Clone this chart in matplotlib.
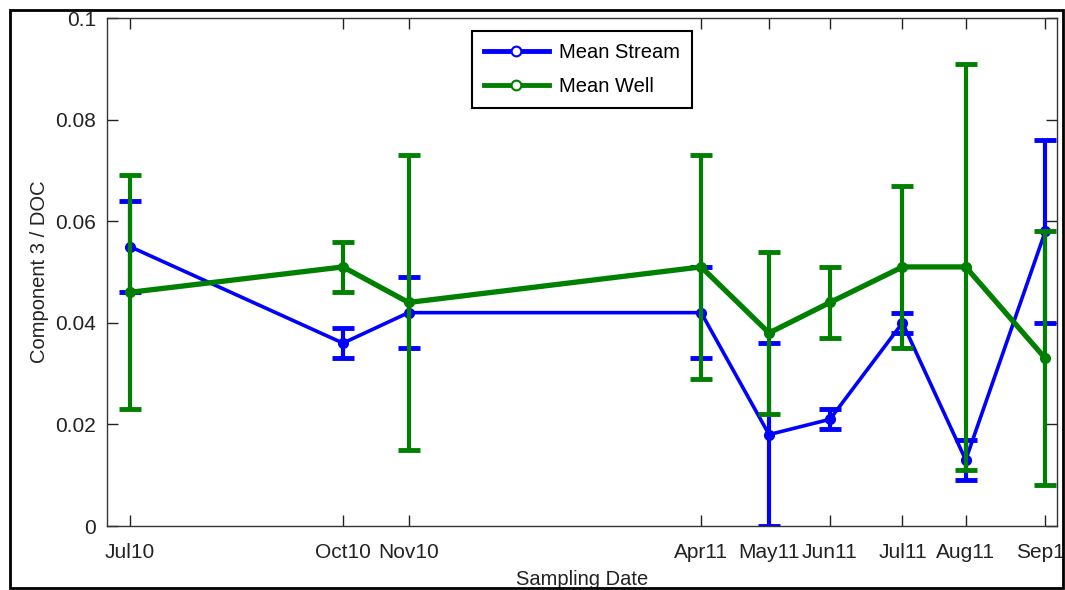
import matplotlib
matplotlib.use("Agg")
import matplotlib.pyplot as plt
from matplotlib.lines import Line2D
from matplotlib.patches import Rectangle

plt.rcParams['font.family'] = ['Liberation Sans', 'DejaVu Sans']

# Sampling dates (days since first sampling) and tick labels
sample_day = [0, 91, 119, 244, 273, 299, 330, 357, 391]
date_labels = ["Jul10", "Oct10", "Nov10", "Apr11", "May11", "Jun11", "Jul11", "Aug11", "Sep11"]

stream_mean = [0.055, 0.036, 0.042, 0.042, 0.018, 0.021, 0.040, 0.013, 0.058]
stream_err = [0.009, 0.003, 0.007, 0.009, 0.018, 0.002, 0.002, 0.004, 0.018]

well_mean = [0.046, 0.051, 0.044, 0.051, 0.038, 0.044, 0.051, 0.051, 0.033]
well_err = [0.023, 0.005, 0.029, 0.022, 0.016, 0.007, 0.016, 0.040, 0.025]

blue = (0, 0, 1)
green = (0, 0.5, 0)
txt = '#222222'

fig = plt.figure(figsize=(10.65, 5.90), dpi=100)
ax = fig.add_axes([107 / 1065, 1 - 526 / 590, 950 / 1065, 508 / 590])

ax.errorbar(sample_day, stream_mean, yerr=stream_err, color=blue, lw=2.6,
            elinewidth=3, capsize=8, capthick=3.5, marker='o', ms=7, mfc=blue,
            mec=blue, zorder=2)
ax.errorbar(sample_day, well_mean, yerr=well_err, color=green, lw=3.8,
            elinewidth=3, capsize=8, capthick=3.5, marker='o', ms=7, mfc=green,
            mec=green, zorder=3)

ax.set_xlim(-9.8, 396)
ax.set_ylim(0, 0.1)
ax.set_xticks(sample_day)
ax.set_xticklabels(date_labels)
ax.set_yticks([0, 0.02, 0.04, 0.06, 0.08, 0.1])
ax.set_yticklabels(["0", "0.02", "0.04", "0.06", "0.08", "0.1"])
ax.tick_params(direction='in', length=8, width=1, top=True, right=True,
               labelsize=15, colors=txt)
ax.tick_params(axis='x', pad=12)
ax.tick_params(axis='y', pad=8)
for s in ax.spines.values():
    s.set_linewidth(1)
    s.set_color('#333333')

ax.set_xlabel("Sampling Date", fontsize=14.5, labelpad=6, color=txt)
ax.set_ylabel("Component 3 / DOC", fontsize=14.5, labelpad=4, color=txt)

handles = [
    Line2D([], [], color=blue, lw=3.5, marker='o', ms=7, mfc='white', mec=blue, mew=1.5),
    Line2D([], [], color=green, lw=3.5, marker='o', ms=7, mfc='white', mec=green, mew=1.5),
]
leg = ax.legend(handles, ["Mean Stream", "Mean Well"], loc='upper center',
                bbox_to_anchor=(0.5, 0.974), fontsize=14.5, frameon=True,
                fancybox=False, edgecolor='black', framealpha=1,
                handlelength=3.2, borderpad=0.6, labelspacing=0.75,
                handletextpad=0.5, borderaxespad=0)
leg.get_frame().set_linewidth(1.5)

# outer figure border
fig.patches.append(Rectangle((10 / 1065, 2 / 590), 1053 / 1065, 578 / 590,
                             transform=fig.transFigure, fill=False,
                             edgecolor='black', lw=2, zorder=10))

fig.savefig("out.png", dpi=100)
